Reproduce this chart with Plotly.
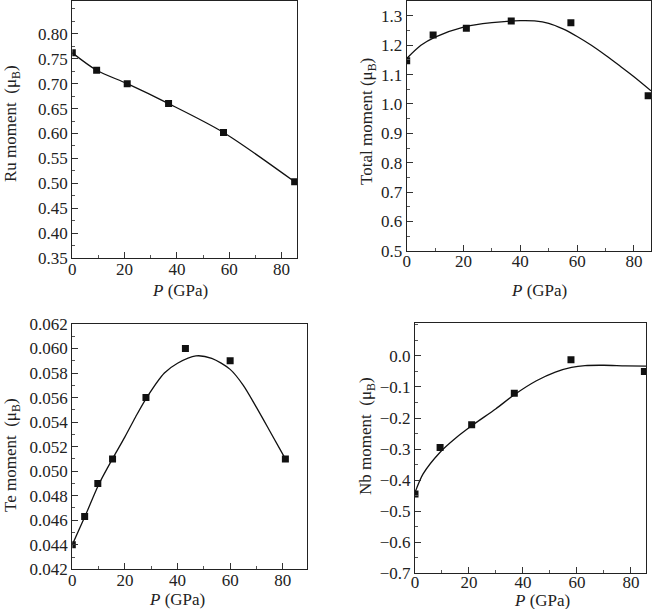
import plotly.graph_objects as go

W, H = 652, 609

# ---- data ----
ru_p = [0, 9.3, 21, 36.8, 57.8, 85]
ru_m = [0.762, 0.727, 0.700, 0.660, 0.602, 0.503]

tot_p = [0, 9.3, 21, 36.8, 57.8, 85]
tot_m = [1.147, 1.235, 1.258, 1.283, 1.277, 1.028]
tot_fit_p = [0, 5, 10, 20, 30, 40, 45, 50, 55, 60, 65, 70, 75, 80, 86]
tot_fit_m = [1.155, 1.200, 1.228, 1.262, 1.277, 1.284, 1.283, 1.275, 1.256, 1.230, 1.200, 1.166, 1.130, 1.093, 1.045]

te_p = [0, 4.7, 9.7, 15.3, 28, 43, 60, 81]
te_m = [0.0440, 0.0463, 0.0490, 0.0510, 0.0560, 0.0600, 0.0590, 0.0510]
te_fit_p = [0, 5, 10, 15, 20, 24, 28, 35, 40, 47, 53, 60, 65, 70, 75, 81]
te_fit_m = [0.0440, 0.0464, 0.0489, 0.0509, 0.0528, 0.0544, 0.0559, 0.0580, 0.0588, 0.0594, 0.0592, 0.0583, 0.0570, 0.0552, 0.0533, 0.0510]

nb_p = [0, 9.3, 21, 36.8, 57.8, 85]
nb_m = [-0.445, -0.295, -0.222, -0.120, -0.012, -0.050]
nb_fit_p = [0, 3, 9.3, 15, 21, 30, 36.8, 45, 52, 58, 63, 70, 78, 86]
nb_fit_m = [-0.440, -0.380, -0.310, -0.265, -0.225, -0.170, -0.125, -0.080, -0.052, -0.037, -0.031, -0.030, -0.032, -0.033]

x_ticks = [0, 20, 40, 60, 80]
ru_ticks = [0.35, 0.40, 0.45, 0.50, 0.55, 0.60, 0.65, 0.70, 0.75, 0.80]
tot_ticks = [0.5, 0.6, 0.7, 0.8, 0.9, 1.0, 1.1, 1.2, 1.3]
te_ticks = [0.042, 0.044, 0.046, 0.048, 0.050, 0.052, 0.054, 0.056, 0.058, 0.060, 0.062]
nb_ticks = [-0.7, -0.6, -0.5, -0.4, -0.3, -0.2, -0.1, 0.0]

FONT = "'Liberation Serif', 'Times New Roman', 'DejaVu Serif', serif"

def px(x):
    return x / W

def py(y):
    return 1 - y / H

fig = go.Figure()

marker = dict(symbol="square", size=7, color="#111")
line = dict(color="#111", width=1.3, shape="spline", smoothing=0.8)

# Panel 1
fig.add_trace(go.Scatter(x=ru_p, y=ru_m, mode="lines", line=line, xaxis="x", yaxis="y"))
fig.add_trace(go.Scatter(x=ru_p, y=ru_m, mode="markers", marker=marker, xaxis="x", yaxis="y"))
# Panel 2
fig.add_trace(go.Scatter(x=tot_fit_p, y=tot_fit_m, mode="lines", line=line, xaxis="x2", yaxis="y2"))
fig.add_trace(go.Scatter(x=tot_p, y=tot_m, mode="markers", marker=marker, xaxis="x2", yaxis="y2"))
# Panel 3
fig.add_trace(go.Scatter(x=te_fit_p, y=te_fit_m, mode="lines", line=line, xaxis="x3", yaxis="y3"))
fig.add_trace(go.Scatter(x=te_p, y=te_m, mode="markers", marker=marker, xaxis="x3", yaxis="y3"))
# Panel 4
fig.add_trace(go.Scatter(x=nb_fit_p, y=nb_fit_m, mode="lines", line=line, xaxis="x4", yaxis="y4"))
fig.add_trace(go.Scatter(x=nb_p, y=nb_m, mode="markers", marker=marker, xaxis="x4", yaxis="y4"))

tickfont = dict(family=FONT, size=17, color="#222")

def xax(domain, rng, anchor, standoff=-5):
    return dict(domain=domain, range=rng, anchor=anchor, tickvals=x_ticks,
                ticks="inside", ticklen=6, tickcolor="#333", showline=True,
                linecolor="#222", linewidth=1.2, mirror=True, showgrid=False,
                zeroline=False, tickfont=tickfont, automargin=False,
                ticklabelstandoff=standoff,
                minor=dict(dtick=10, tick0=0, ticks="inside", ticklen=3, tickcolor="#555"))

def yax(domain, rng, anchor, ticks, fmt, minor_dt):
    return dict(domain=domain, range=rng, anchor=anchor, tickvals=ticks,
                tickformat=fmt, ticks="inside", ticklen=6, tickcolor="#333",
                showline=True, linecolor="#222", linewidth=1.2, mirror=True,
                showgrid=False, zeroline=False, tickfont=tickfont, automargin=False,
                minor=dict(dtick=minor_dt, tick0=ticks[0], ticks="inside", ticklen=3, tickcolor="#555"))

layout = dict(
    width=W, height=H, margin=dict(l=0, r=0, t=0, b=0, autoexpand=False),
    paper_bgcolor="white", plot_bgcolor="white", showlegend=False,
    font=dict(family=FONT),
    xaxis=xax([px(72.3), px(297)], [0, 85.9], "y"),
    yaxis=yax([py(258), py(1)], [0.35, 0.866], "x", ru_ticks, ".2f", 0.025),
    xaxis2=xax([px(406.7), px(651)], [0, 86], "y2"),
    yaxis2=yax([py(250.7), py(1)], [0.5, 1.351], "x2", tot_ticks, ".1f", 0.05),
    xaxis3=xax([px(72.3), px(306.7)], [0, 89.1], "y3"),
    yaxis3=yax([py(569.3), py(324)], [0.042, 0.062], "x3", te_ticks, ".3f", 0.001),
    xaxis4=xax([px(415), px(646)], [0, 85.6], "y4", standoff=-7),
    yaxis4=yax([py(573.3), py(322.7)], [-0.7, 0.107], "x4", nb_ticks, ".1f", 0.05),
)
fig.update_layout(**layout)

tfont = dict(family=FONT, size=17, color="#222")
ytitles = [("Ru moment  (μ<sub>B</sub>)", 12, 124),
           ("Total moment (μ<sub>B</sub>)", 368, 122),
           ("Te moment  (μ<sub>B</sub>)", 12, 455),
           ("Nb moment  (μ<sub>B</sub>)", 367, 436)]
for t, x, y in ytitles:
    fig.add_annotation(text=t, x=px(x), y=py(y), xref="paper", yref="paper",
                       showarrow=False, textangle=-90, font=tfont,
                       xanchor="center", yanchor="middle")
xtitles = [(180, 290), (539, 290), (177, 599), (542, 600)]
for x, y in xtitles:
    fig.add_annotation(text="<i>P</i> (GPa)", x=px(x), y=py(y), xref="paper", yref="paper",
                       showarrow=False, font=tfont, xanchor="center", yanchor="middle")

fig.write_html("out.html", config={"displayModeBar": False},
               post_script="document.body.style.margin='0';document.body.style.overflow='hidden';")
